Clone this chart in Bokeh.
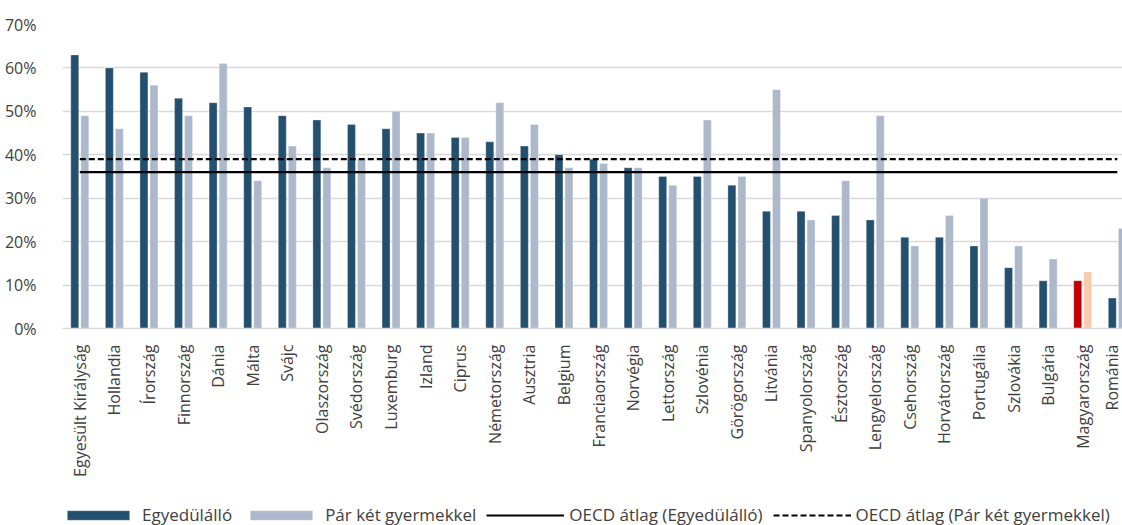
from math import pi

from bokeh.embed import file_html
from bokeh.resources import INLINE
from bokeh.layouts import column
from bokeh.plotting import figure
from bokeh.models import (ColumnDataSource, Range1d, FixedTicker, PrintfTickFormatter,
                          Legend, LegendItem)

# Countries (Hungarian names) and shares in percent
countries = [
    "Egyesült Királyság", "Hollandia", "Írország", "Finnország", "Dánia", "Málta",
    "Svájc", "Olaszország", "Svédország", "Luxemburg", "Izland", "Ciprus",
    "Németország", "Ausztria", "Belgium", "Franciaország", "Norvégia", "Lettország",
    "Szlovénia", "Görögország", "Litvánia", "Spanyolország", "Észtország",
    "Lengyelország", "Csehország", "Horvátország", "Portugália", "Szlovákia",
    "Bulgária", "Magyarország", "Románia",
]
single = [63, 60, 59, 53, 52, 51, 49, 48, 47, 46, 45, 44, 43, 42, 40, 39, 37, 35,
          35, 33, 27, 27, 26, 25, 21, 21, 19, 14, 11, 11, 7]
couple = [49, 46, 56, 49, 61, 34, 42, 37, 39, 50, 45, 44, 52, 47, 37, 38, 37, 33,
          48, 35, 55, 25, 34, 49, 19, 26, 30, 19, 16, 13, 23]
oecd_single = 36
oecd_couple = 39
y_ticks = [0, 10, 20, 30, 40, 50, 60, 70]
highlight = "Magyarország"
series_labels = ["Egyedülálló", "Pár két gyermekkel",
                 "OECD átlag (Egyedülálló)", "OECD átlag (Pár két gyermekkel)"]

DARK = "#24506F"
LIGHT = "#ADB9CB"
HL_DARK = "#C00000"
HL_LIGHT = "#F8CBAD"
GRID = "#D9D9D9"
TEXT = "#404040"
FONT = "Open Sans"

n = len(countries)
idx = list(range(n))
offset = 0.145
bar_w = 0.23

src = ColumnDataSource(dict(
    x1=[i - offset for i in idx],
    x2=[i + offset for i in idx],
    single=single,
    couple=couple,
    c1=[HL_DARK if c == highlight else DARK for c in countries],
    c2=[HL_LIGHT if c == highlight else LIGHT for c in countries],
))
avg_src = ColumnDataSource(dict(x=idx, s=[oecd_single] * n, c=[oecd_couple] * n))


def draw_series(fig):
    """Bars for both household types plus the two OECD average lines."""
    b1 = fig.vbar(x="x1", top="single", width=bar_w, source=src, fill_color="c1",
                  line_color="white", line_width=0.6, line_alpha=0.5)
    b2 = fig.vbar(x="x2", top="couple", width=bar_w, source=src, fill_color="c2",
                  line_color="white", line_width=0.6, line_alpha=0.5)
    l1 = fig.line(x="x", y="s", source=avg_src, line_color="black", line_width=2.2)
    l2 = fig.line(x="x", y="c", source=avg_src, line_color="black", line_width=2.2,
                  line_dash="6 3")
    return [b1, b2, l1, l2]


# Main chart
p = figure(frame_width=1060, frame_height=304, output_backend="svg",
           toolbar_location=None,
           x_range=Range1d(-0.5, 30.15), y_range=Range1d(0, 70),
           min_border_left=62, min_border_right=0, min_border_top=24,
           min_border_bottom=148, outline_line_color=None)
p.background_fill_color = "white"
p.border_fill_color = "white"
draw_series(p)

p.xaxis.ticker = FixedTicker(ticks=idx)
p.xaxis.major_label_overrides = {i: c for i, c in enumerate(countries)}
p.xaxis.major_label_orientation = pi / 2
p.xaxis.major_tick_line_color = None
p.xaxis.minor_tick_line_color = None
p.xaxis.axis_line_color = GRID
p.xaxis.axis_line_width = 1.5
p.xaxis.major_label_standoff = 10
p.xaxis.major_label_text_font = FONT
p.xaxis.major_label_text_font_size = "16px"
p.xaxis.major_label_text_color = TEXT

p.yaxis.ticker = FixedTicker(ticks=y_ticks)
p.yaxis.formatter = PrintfTickFormatter(format="%d%%")
p.yaxis.axis_line_color = None
p.yaxis.major_tick_line_color = None
p.yaxis.minor_tick_line_color = None
p.yaxis.major_label_standoff = 20
p.yaxis.major_label_text_font = FONT
p.yaxis.major_label_text_font_size = "16px"
p.yaxis.major_label_text_color = TEXT

p.xgrid.grid_line_color = None
p.ygrid.ticker = FixedTicker(ticks=y_ticks)
p.ygrid.grid_line_color = GRID
p.ygrid.grid_line_width = 1.5

# Legend strip underneath: the same series, kept outside its visible window,
# so only the legend keys show
leg = figure(width=1122, height=49, output_backend="svg", toolbar_location=None,
             x_axis_type=None, y_axis_type=None, min_border=0,
             x_range=Range1d(1000, 1001), y_range=Range1d(1000, 1001),
             outline_line_color=None)
leg.grid.visible = False
keys = draw_series(leg)

legend = Legend(items=[LegendItem(label=t, renderers=[r])
                       for t, r in zip(series_labels, keys)],
                orientation="horizontal", location=(-3, 2))
legend.glyph_width = 78
legend.glyph_height = 12
legend.label_standoff = 5
legend.spacing = 10
legend.padding = 0
legend.margin = 0
legend.border_line_color = None
legend.background_fill_alpha = 0
legend.label_text_font = FONT
legend.label_text_font_size = "17px"
legend.label_text_color = TEXT
leg.add_layout(legend, "center")

layout = column(p, leg, spacing=0)
open("out.html", "w").write(file_html(layout, INLINE))
